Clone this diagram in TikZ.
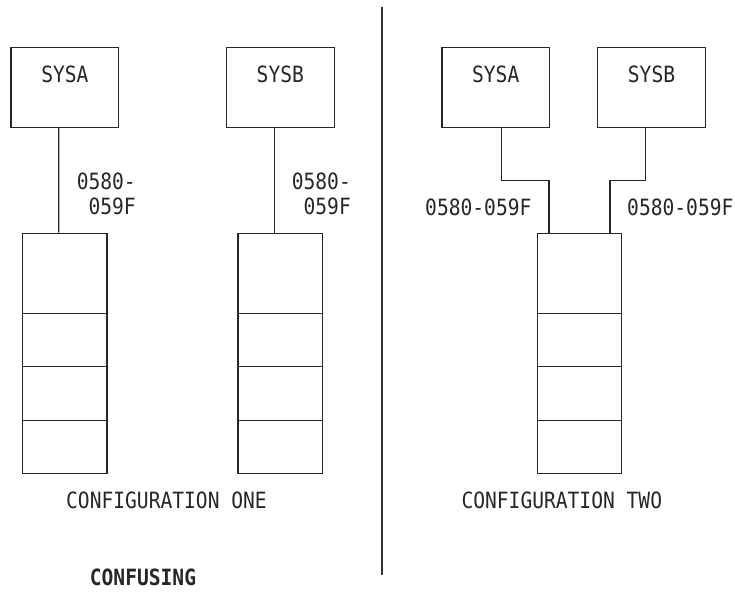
\documentclass[tikz,border=0pt]{standalone}
\usepackage{fontspec}
\newfontfamily\monofont[FakeStretch=0.875]{DejaVu Sans Mono}
\usetikzlibrary{calc}
\tikzset{
  txt/.style={inner sep=0pt, font=\monofont\fontsize{22.4}{25}\selectfont, text=black!85},
  sysbox/.style={draw, line width=1.3pt, minimum width=107.7pt, minimum height=80pt, inner sep=0pt},
  cell/.style={draw, line width=1.3pt, minimum width=84.6pt, inner sep=0pt},
  conn/.style={line width=1.3pt},
  divider/.style={line width=2.2pt, draw=black!80}
}
\begin{document}
\begin{tikzpicture}[x=1pt,y=-1pt, line join=miter, draw=black!85]
\useasboundingbox (0,0) rectangle (735,591);
% divider
\coordinate (dtop) at (382,7.3);
\coordinate (dbot) at (382,575);
\draw[divider] (dtop) -- (dbot);

% configuration one
\node[sysbox] (sysa1) at (64.85,87.3) {};
\node[txt] (sysa1t) at (64.85,74) {SYSA};
\node[sysbox] (sysb1) at (280.3,87.3) {};
\node[txt] (sysb1t) at (280.3,74) {SYSB};

\foreach \n/\cx in {s1/64.7, s2/280.2, s3/579.5}{
  \node[cell, minimum height=80pt] (\n a) at (\cx,273.3) {};
  \node[cell, minimum height=53pt] (\n b) at (\cx,339.8) {};
  \node[cell, minimum height=54pt] (\n c) at (\cx,393.3) {};
  \node[cell, minimum height=53pt] (\n d) at (\cx,446.8) {};
}

\draw[conn] ([xshift=-6.15pt]sysa1.south) -- ([xshift=-6pt]s1a.north);
\draw[conn] ([xshift=-5.6pt]sysb1.south) -- ([xshift=-5.5pt]s2a.north);

\node[txt, anchor=east] (la1) at (136,181) {0580-};
\node[txt, anchor=east] (la2) at (136,206) {059F};
\node[txt, anchor=east] (lb1) at (351,181) {0580-};
\node[txt, anchor=east] (lb2) at (351,206) {059F};

\node[txt] (c1) at (166.5,500) {CONFIGURATION ONE};
\node[txt, font=\monofont\bfseries\fontsize{22.4}{25}\selectfont] (conf) at (143,577.5) {CONFUSING};

% configuration two
\node[sysbox] (sysa2) at (495.7,87.3) {};
\node[txt] (sysa2t) at (495.7,74) {SYSA};
\node[sysbox] (sysb2) at (651.5,87.3) {};
\node[txt] (sysb2t) at (651.5,74) {SYSB};

\draw[conn] ([xshift=5.6pt]sysa2.south) -- ++(0,52.7) -| ([xshift=12.4pt]s3a.north west);
\draw[conn] ([xshift=-5.8pt]sysb2.south) -- ++(0,52.7) -| ([xshift=-12.4pt]s3a.north east);

\node[txt] (lc) at (478.3,207.7) {0580-059F};
\node[txt] (ld) at (680.3,207.7) {0580-059F};

\node[txt] (c2) at (561.8,500) {CONFIGURATION TWO};
\end{tikzpicture}
\end{document}
